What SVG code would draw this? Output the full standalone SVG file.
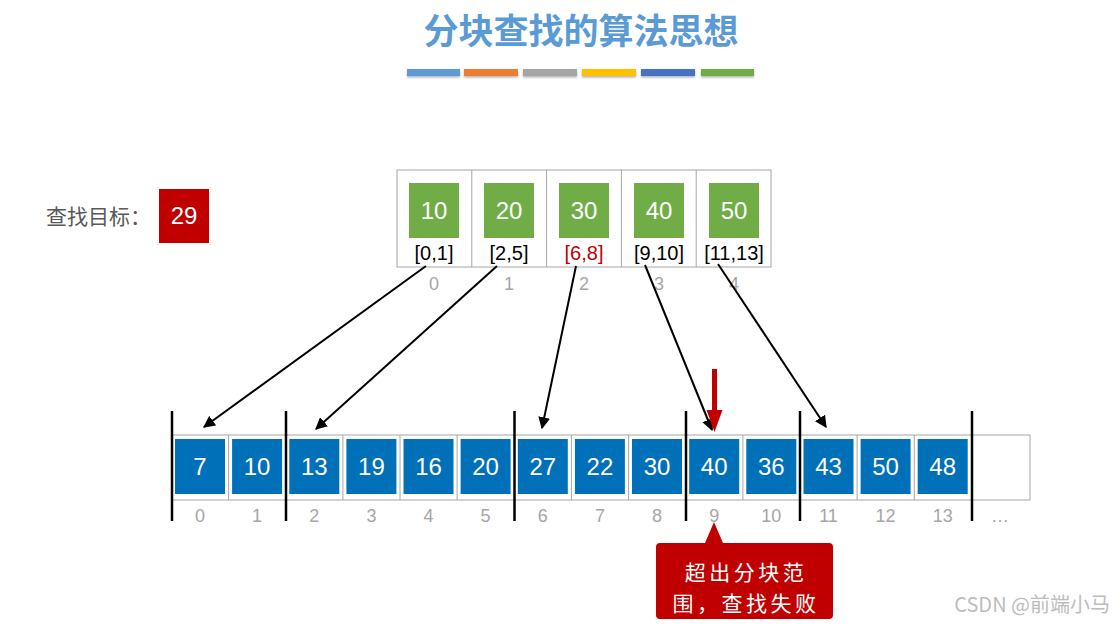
<svg xmlns="http://www.w3.org/2000/svg" width="1120" height="624" viewBox="0 0 1120 624">
<defs>
<style>
.lat{font-family:"Liberation Sans",Arial,sans-serif}
.cjk{font-family:"Noto Sans CJK SC","Noto Sans",sans-serif}
.idx{font-family:"Liberation Sans",Arial,sans-serif;font-size:18px;fill:#a6a6a6;text-anchor:middle}
.num{font-family:"Liberation Sans",Arial,sans-serif;font-size:24px;fill:#fff;text-anchor:middle}
.rng{font-family:"Liberation Sans",Arial,sans-serif;font-size:20px;fill:#000;text-anchor:middle}
.grn{fill:#70ad47}
.blu{fill:#0070b8}
.cell{fill:none;stroke:#a6a6a6;stroke-width:1}
.sep{stroke:#000;stroke-width:2.5}
.conn{stroke:#000;stroke-width:2;fill:none;marker-end:url(#ah)}
</style>
<marker id="ah" viewBox="0 0 10 10" refX="9" refY="5" markerWidth="6" markerHeight="6" orient="auto" markerUnits="strokeWidth">
<path d="M0,0 L10,5 L0,10 z" fill="#000"/>
</marker>
<filter id="sh" x="-10%" y="-50%" width="120%" height="250%">
<feDropShadow dx="0" dy="1.5" stdDeviation="1" flood-color="#000" flood-opacity="0.3"/>
</filter>
</defs>
<rect width="1120" height="624" fill="#fff"/>

<g id="title">
<text x="581" y="44" class="cjk" font-size="35" font-weight="bold" fill="#5b9bd5" text-anchor="middle">分块查找的算法思想</text>
<g filter="url(#sh)">
<rect x="407" y="69" width="53" height="7" fill="#5b9bd5"/>
<rect x="464" y="69" width="54" height="7" fill="#ed7d31"/>
<rect x="523" y="69" width="54" height="7" fill="#a5a5a5"/>
<rect x="582" y="69" width="54" height="7" fill="#ffc000"/>
<rect x="641" y="69" width="54" height="7" fill="#4472c4"/>
<rect x="701" y="69" width="53" height="7" fill="#70ad47"/>
</g>
</g>

<g id="target">
<text x="46" y="224" class="cjk" font-size="21" fill="#595959">查找目标：</text>
<rect x="159" y="189" width="50" height="54" fill="#c00000"/>
<text x="184" y="224" class="num">29</text>
</g>

<g id="index-table">
<rect x="397" y="170" width="374" height="97" class="cell"/>
<line x1="471.8" y1="170" x2="471.8" y2="267" class="cell"/>
<line x1="546.6" y1="170" x2="546.6" y2="267" class="cell"/>
<line x1="621.4" y1="170" x2="621.4" y2="267" class="cell"/>
<line x1="696.2" y1="170" x2="696.2" y2="267" class="cell"/>
<g id="idx0"><rect x="409" y="183" width="50" height="55" class="grn"/><text x="434" y="219" class="num">10</text><text x="434" y="260" class="rng">[0,1]</text><text x="434" y="290" class="idx">0</text></g>
<g id="idx1"><rect x="484" y="183" width="50" height="55" class="grn"/><text x="509" y="219" class="num">20</text><text x="509" y="260" class="rng">[2,5]</text><text x="509" y="290" class="idx">1</text></g>
<g id="idx2"><rect x="559" y="183" width="50" height="55" class="grn"/><text x="584" y="219" class="num">30</text><text x="584" y="260" class="rng" style="fill:#c00000">[6,8]</text><text x="584" y="290" class="idx">2</text></g>
<g id="idx3"><rect x="634" y="183" width="50" height="55" class="grn"/><text x="659" y="219" class="num">40</text><text x="659" y="260" class="rng">[9,10]</text><text x="659" y="290" class="idx">3</text></g>
<g id="idx4"><rect x="709" y="183" width="50" height="55" class="grn"/><text x="734" y="219" class="num">50</text><text x="734" y="260" class="rng">[11,13]</text><text x="734" y="290" class="idx">4</text></g>
</g>

<g id="array">
<rect x="171.5" y="435" width="858.5" height="65" class="cell"/>
<g class="cell">
<line x1="228.6" y1="435" x2="228.6" y2="500"/>
<line x1="342.9" y1="435" x2="342.9" y2="500"/>
<line x1="400" y1="435" x2="400" y2="500"/>
<line x1="457.1" y1="435" x2="457.1" y2="500"/>
<line x1="571.4" y1="435" x2="571.4" y2="500"/>
<line x1="628.6" y1="435" x2="628.6" y2="500"/>
<line x1="742.9" y1="435" x2="742.9" y2="500"/>
<line x1="857.1" y1="435" x2="857.1" y2="500"/>
<line x1="914.3" y1="435" x2="914.3" y2="500"/>
</g>
<g id="a0"><rect x="175" y="439" width="50" height="55" class="blu"/><text x="200" y="475" class="num">7</text><text x="200" y="522" class="idx">0</text></g>
<g id="a1"><rect x="232.1" y="439" width="50" height="55" class="blu"/><text x="257.1" y="475" class="num">10</text><text x="257.1" y="522" class="idx">1</text></g>
<g id="a2"><rect x="289.3" y="439" width="50" height="55" class="blu"/><text x="314.3" y="475" class="num">13</text><text x="314.3" y="522" class="idx">2</text></g>
<g id="a3"><rect x="346.4" y="439" width="50" height="55" class="blu"/><text x="371.4" y="475" class="num">19</text><text x="371.4" y="522" class="idx">3</text></g>
<g id="a4"><rect x="403.5" y="439" width="50" height="55" class="blu"/><text x="428.5" y="475" class="num">16</text><text x="428.5" y="522" class="idx">4</text></g>
<g id="a5"><rect x="460.6" y="439" width="50" height="55" class="blu"/><text x="485.6" y="475" class="num">20</text><text x="485.6" y="522" class="idx">5</text></g>
<g id="a6"><rect x="517.8" y="439" width="50" height="55" class="blu"/><text x="542.8" y="475" class="num">27</text><text x="542.8" y="522" class="idx">6</text></g>
<g id="a7"><rect x="574.9" y="439" width="50" height="55" class="blu"/><text x="599.9" y="475" class="num">22</text><text x="599.9" y="522" class="idx">7</text></g>
<g id="a8"><rect x="632" y="439" width="50" height="55" class="blu"/><text x="657" y="475" class="num">30</text><text x="657" y="522" class="idx">8</text></g>
<g id="a9"><rect x="689.2" y="439" width="50" height="55" class="blu"/><text x="714.2" y="475" class="num">40</text><text x="714.2" y="522" class="idx">9</text></g>
<g id="a10"><rect x="746.3" y="439" width="50" height="55" class="blu"/><text x="771.3" y="475" class="num">36</text><text x="771.3" y="522" class="idx">10</text></g>
<g id="a11"><rect x="803.5" y="439" width="50" height="55" class="blu"/><text x="828.5" y="475" class="num">43</text><text x="828.5" y="522" class="idx">11</text></g>
<g id="a12"><rect x="860.6" y="439" width="50" height="55" class="blu"/><text x="885.6" y="475" class="num">50</text><text x="885.6" y="522" class="idx">12</text></g>
<g id="a13"><rect x="917.7" y="439" width="50" height="55" class="blu"/><text x="942.7" y="475" class="num">48</text><text x="942.7" y="522" class="idx">13</text></g>
<text x="1000" y="522" class="idx">…</text>
<g id="block-separators">
<line x1="172" y1="411" x2="172" y2="521" class="sep"/>
<line x1="286" y1="411" x2="286" y2="521" class="sep"/>
<line x1="514.5" y1="411" x2="514.5" y2="521" class="sep"/>
<line x1="686" y1="411" x2="686" y2="521" class="sep"/>
<line x1="800" y1="411" x2="800" y2="521" class="sep"/>
<line x1="972" y1="411" x2="972" y2="521" class="sep"/>
</g>
</g>

<g id="connectors">
<line x1="426" y1="266" x2="204" y2="427" class="conn"/>
<line x1="497" y1="266" x2="316" y2="429" class="conn"/>
<line x1="576" y1="266" x2="542" y2="428" class="conn"/>
<line x1="645" y1="265" x2="712" y2="430" class="conn"/>
<line x1="718" y1="264" x2="826" y2="427" class="conn"/>
<g id="pointer">
<rect x="712" y="369" width="5" height="42" fill="#c00000"/>
<path d="M706.5,410 L722.5,410 L714.5,432 z" fill="#c00000"/>
</g>
</g>

<g id="callout">
<path d="M660,543 L705,543 L714,522 L723,543 L829,543 Q833,543 833,547 L833,615 Q833,619 829,619 L660,619 Q656,619 656,615 L656,547 Q656,543 660,543 z" fill="#c00000"/>
<text x="746" y="580" class="cjk" font-size="21" letter-spacing="3.5" fill="#fff" text-anchor="middle">超出分块范</text>
<text x="746" y="611" class="cjk" font-size="21" letter-spacing="3.5" fill="#fff" text-anchor="middle">围，查找失败</text>
</g>

<text x="1110" y="612" class="cjk" font-size="20" fill="#bdbdbd" text-anchor="end">CSDN @前端小马</text>
</svg>
